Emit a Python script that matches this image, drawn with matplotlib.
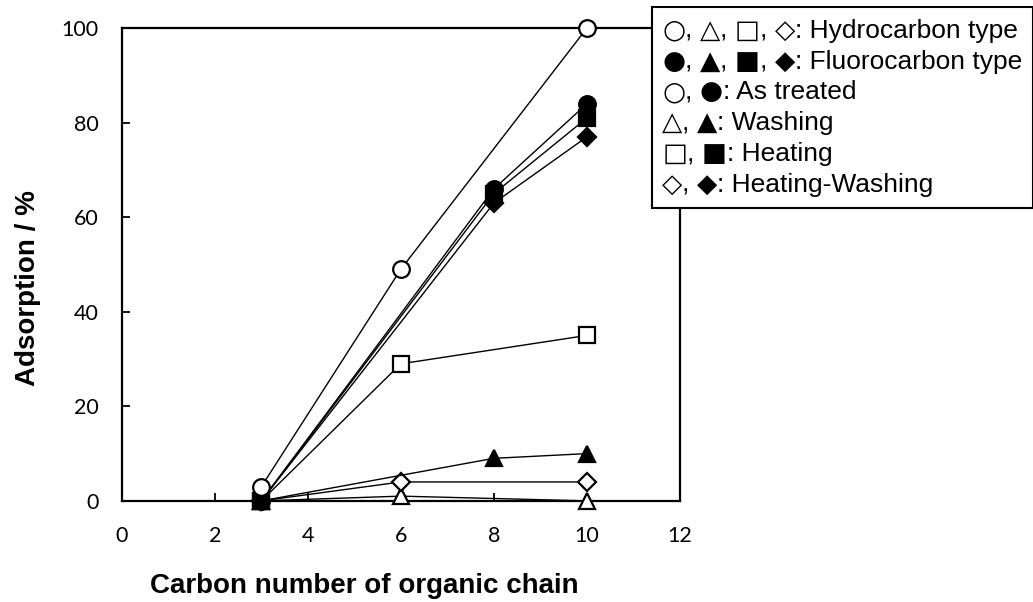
import numpy as np
import matplotlib
matplotlib.use('Agg')
import matplotlib.pyplot as plt
from matplotlib.offsetbox import TextArea, HPacker, VPacker, AnchoredOffsetbox

# hydrocarbon type (open markers)
hc_x = [3, 6, 10]
hc_treated = [3, 49, 100]
hc_washing = [0, 1, 0]
hc_heating = [0, 29, 35]
hc_heatwash = [0, 4, 4]

# fluorocarbon type (filled markers)
fc_x = [3, 8, 10]
fc_treated = [0, 66, 84]
fc_washing = [0, 9, 10]
fc_heating = [0, 65, 81]
fc_heatwash = [0, 63, 77]

legend_rows = [
    (['○', '△', '□', '◇'], ': Hydrocarbon type'),
    (['●', '▲', '■', '◆'], ': Fluorocarbon type'),
    (['○', '●'], ': As treated'),
    (['△', '▲'], ': Washing'),
    (['□', '■'], ': Heating'),
    (['◇', '◆'], ': Heating-Washing'),
]

fig = plt.figure(figsize=(10.33, 6.02), dpi=100)
ax = fig.add_axes([0.118, 0.168, 0.540, 0.785])

lw = 1.0
mew = 1.6
series = [
    (hc_x, hc_washing, '^', 'white', 12),
    (hc_x, hc_heatwash, 'D', 'white', 9),
    (hc_x, hc_heating, 's', 'white', 11),
    (fc_x, fc_washing, '^', 'black', 12),
    (fc_x, fc_heatwash, 'D', 'black', 9),
    (fc_x, fc_heating, 's', 'black', 11),
    (fc_x, fc_treated, 'o', 'black', 12),
    (hc_x, hc_treated, 'o', 'white', 12),
]
for xs, ys, m, fc, ms in series:
    ax.plot(xs, ys, color='black', lw=lw, marker=m, ms=ms, mfc=fc,
            mec='black', mew=mew, clip_on=False, zorder=3)

ax.set_xlim(0, 12)
ax.set_ylim(0, 100)
ax.set_xticks(np.arange(0, 13, 2))
ax.set_yticks(np.arange(0, 101, 20))
for s in ax.spines.values():
    s.set_linewidth(1.6)
ax.tick_params(direction='in', length=6, width=1.3, labelsize=15.5)
ax.tick_params(axis='x', pad=18)
ax.tick_params(axis='y', pad=17)
for lab in ax.get_xticklabels() + ax.get_yticklabels():
    lab.set_family('Lato')

ax.set_xlabel('Carbon number of organic chain', fontsize=20, fontweight='bold',
              family='Liberation Sans')
ax.set_ylabel('Adsorption / %', fontsize=20, fontweight='bold',
              family='Liberation Sans')
ax.xaxis.set_label_coords(0.435, -0.152)
ax.yaxis.set_label_coords(-0.145, 0.45)

# legend made of text symbols
sym_props = dict(family='DejaVu Sans', size=19, color='black')
txt_props = dict(family='Liberation Sans', size=19, color='black')
rows = []
for syms, label in legend_rows:
    parts = []
    for i, s in enumerate(syms):
        parts.append(TextArea(s, textprops=sym_props))
        if i < len(syms) - 1:
            parts.append(TextArea(', ', textprops=txt_props))
    parts.append(TextArea(label, textprops=txt_props))
    rows.append(HPacker(children=parts, align='baseline', pad=0, sep=0))
box = VPacker(children=rows, align='left', pad=0, sep=3.5)
anch = AnchoredOffsetbox(loc='upper left', child=box, pad=0.75, borderpad=0,
                         frameon=True, bbox_to_anchor=(0.631, 0.988),
                         bbox_transform=fig.transFigure)
anch.patch.set_linewidth(1.5)
anch.patch.set_edgecolor('black')
anch.set_zorder(10)
fig.add_artist(anch)

plt.savefig('out.png', dpi=100)
